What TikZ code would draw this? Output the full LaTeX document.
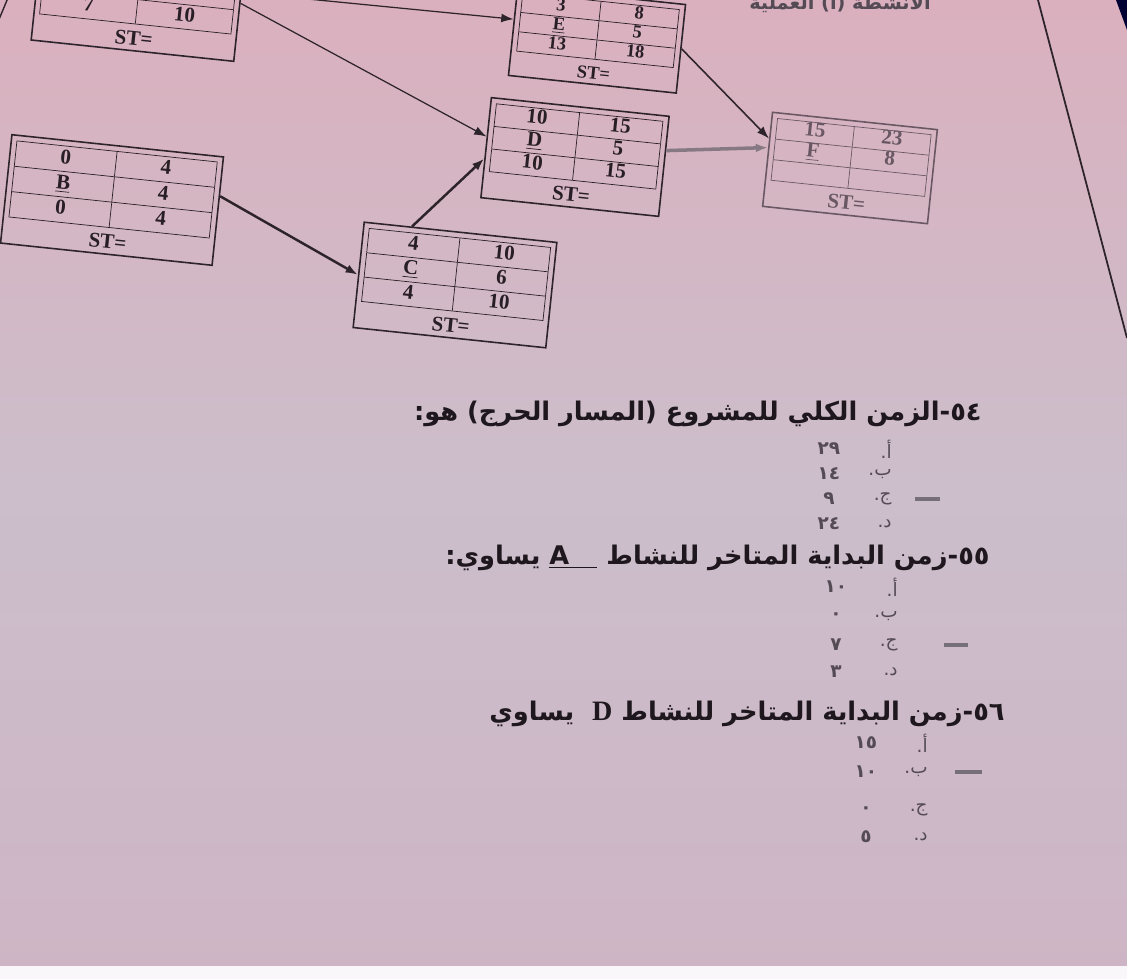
\documentclass[tikz,border=0pt]{standalone}
\usepackage{fontspec}
\usepackage{array}
\setmainfont{Liberation Serif}
\newfontfamily\arabicfont[Script=Arabic]{DejaVu Sans}
\usetikzlibrary{positioning,arrows.meta,calc}
\TeXXeTstate=1

\definecolor{boxline}{RGB}{45,35,42}
\definecolor{boxtext}{RGB}{40,30,38}
\definecolor{fadeline}{RGB}{105,88,100}
\definecolor{inkdark}{RGB}{30,24,30}
\definecolor{inkgray}{RGB}{85,75,85}
\definecolor{papertop}{RGB}{218,176,190}
\definecolor{papermid}{RGB}{204,190,203}
\definecolor{paperbot}{RGB}{206,181,197}

\newcolumntype{C}[1]{>{\centering\arraybackslash}p{#1}}
\setlength{\tabcolsep}{2pt}

% activity box: colwidth, stretch, ES, EF, name, duration, LS, LF
\newcommand{\acttab}[8]{%
  \renewcommand{\arraystretch}{#2}%
  \begin{tabular}{|C{#1}|C{#1}|}\hline
    #3 & #4\\ \hline
    \underline{#5} & #6\\ \hline
    #7 & #8\\ \hline
  \end{tabular}\\[3pt] ST=}

\begin{document}
\begin{tikzpicture}[x=0.02cm, y=-0.02cm,
  actbox/.style={draw=boxline, rotate=-6, inner sep=3pt, align=center,
    font=\bfseries\fontsize{12}{14.4}\selectfont, text=boxtext, line width=0.9pt},
  arr/.style={-{Latex[length=7pt,width=5pt]}, draw=boxline, line width=0.7pt},
  thickarr/.style={arr, line width=1.4pt},
  qtext/.style={anchor=east, inner sep=0pt, text=inkdark,
    font=\arabicfont\bfseries\fontsize{14.6}{17}\selectfont},
  optlet/.style={anchor=east, inner sep=0pt, text=inkgray,
    font=\arabicfont\fontsize{10.5}{12}\selectfont},
  optnum/.style={inner sep=0pt, text=inkgray,
    font=\arabicfont\bfseries\fontsize{10.5}{12}\selectfont},
  answerbar/.style={draw=inkgray!80, line width=2.4pt},
]
\useasboundingbox (0,0) rectangle (1127,979);
\clip (0,0) rectangle (1127,979);
\fill[top color=papertop, bottom color=paperbot, middle color=papermid]
  (0,0) rectangle (1127,979);
\fill[white!88!papermid] (0,966) rectangle (1127,979);

% page edge
\draw[boxline, line width=1pt] (1038,0) -- (1127,338);
\fill[black!80!blue] (1116,0) -- (1127,0) -- (1127,30) -- cycle;

% activity boxes
\node[actbox] (A) at (138,-2) {\acttab{1.77cm}{0.94}{}{}{\phantom{A}}{}{7}{10}};
\node[actbox] (B) at (112,200) {\acttab{1.86cm}{0.98}{0}{4}{B}{4}{0}{4}};
\node[actbox] (C) at (455,285) {\acttab{1.67cm}{0.94}{4}{10}{C}{6}{4}{10}};
\node[actbox] (D) at (575,157) {\acttab{1.52cm}{0.87}{10}{15}{D}{5}{10}{15}};
\node[actbox, font=\bfseries\fontsize{10.5}{12.4}\selectfont] (E) at (597,40)
  {\acttab{1.42cm}{0.86}{3}{8}{E}{5}{13}{18}};
\node[actbox, draw=fadeline, text=fadeline] (F) at (850,168)
  {\acttab{1.39cm}{0.79}{15}{23}{F}{8}{}{}};

% partial text at the top edge
\node[inner sep=0pt, text=inkgray, font=\arabicfont\bfseries\fontsize{11}{13}\selectfont]
  (toptext) at (840,2) {\beginR الأنشطة (أ) العملية\endR};

% connectors
\coordinate (s1) at (-5,29);
\coordinate (s2) at (10,-7);
\draw[boxline, line width=0.8pt] (s1) -- (s2);
\draw[arr] (A.3) -- (D.173);
\draw[arr] (A.9) -- (E.172);
\draw[thickarr] (B.8) -- (C.west);
\draw[thickarr] ($(C.north west)!0.25!(C.north east)$) -- (D.-173);
\draw[arr, draw=fadeline!80, line width=2pt] (D.10) -- (F.172);
\draw[arr, line width=0.9pt] (E.east) -- (F.166);

% question 54
\node[qtext] (q54) at (982,414)
  {\beginR\beginL٥٤\endL-الزمن الكلي للمشروع (المسار الحرج) هو:\endR};
\foreach \y/\l/\n [count=\i] in {449/أ/٢٩, 474/ب/١٤, 499/ج/٩, 524/د/٢٤} {
  \node[optlet] (q54l\i) at (892,\y) {\beginR\l.\endR};
  \node[optnum] (q54n\i) at (829,\y) {\n};
}
\draw[answerbar] (915,499) -- (940,499);

% question 55
\node[qtext] (q55) at (990,558)
  {\beginR\beginL٥٥\endL-زمن البداية المتاخر للنشاط \underline{\hbox{A\hspace{1.1em}}} يساوي:\endR};
\foreach \y/\l/\n [count=\i] in {587/أ/١٠, 616/ب/٠, 645/ج/٧, 672/د/٣} {
  \node[optlet] (q55l\i) at (898,\y) {\beginR\l.\endR};
  \node[optnum] (q55n\i) at (836,\y) {\n};
}
\draw[answerbar] (944,645) -- (968,645);

% question 56
\node[qtext] (q56) at (1005,714)
  {\beginR\beginL٥٦\endL-زمن البداية المتاخر للنشاط {\rmfamily\bfseries\fontsize{16}{18}\selectfont D}\ \ يساوي\endR};
\foreach \y/\l/\n [count=\i] in {743/أ/١٥, 772/ب/١٠, 810/ج/٠, 837/د/٥} {
  \node[optlet] (q56l\i) at (928,\y) {\beginR\l.\endR};
  \node[optnum] (q56n\i) at (866,\y) {\n};
}
\draw[answerbar] (955,772) -- (982,772);
\end{tikzpicture}
\end{document}
